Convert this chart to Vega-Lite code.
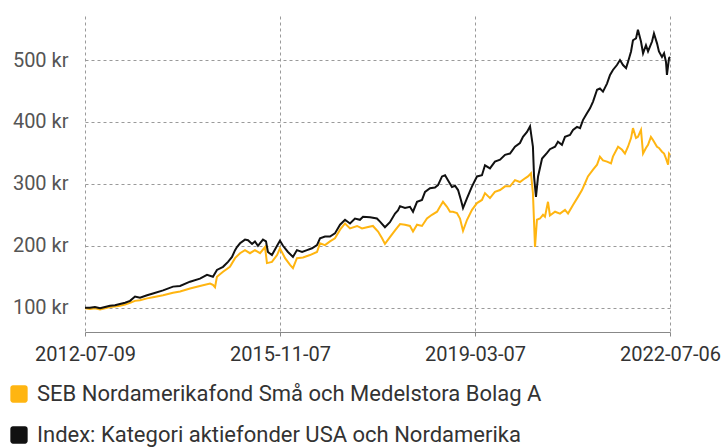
{
  "$schema": "https://vega.github.io/schema/vega-lite/v6.json",
  "autosize": "none",
  "width": 585,
  "height": 316,
  "padding": {"left": 85, "top": 16, "right": 55, "bottom": 116},
  "background": "white",
  "config": {
    "view": {"stroke": null},
    "font": "Roboto",
    "axis": {"labelFont": "Roboto", "gridColor": "#9a9a9a", "gridDash": [3, 3], "gridWidth": 1},
    "legend": {"labelFont": "Roboto"}
  },
  "datasets": {
    "seb": [
      {"d": "2012-07-09", "v": 99}, {"d": "2012-08-09", "v": 98}, {"d": "2012-09-09", "v": 99}, {"d": "2012-10-11", "v": 97},
      {"d": "2012-11-11", "v": 99}, {"d": "2012-12-12", "v": 101}, {"d": "2013-01-12", "v": 102}, {"d": "2013-02-12", "v": 103},
      {"d": "2013-03-16", "v": 105}, {"d": "2013-04-16", "v": 108}, {"d": "2013-05-17", "v": 111}, {"d": "2013-06-17", "v": 112},
      {"d": "2013-07-31", "v": 115}, {"d": "2013-09-06", "v": 117}, {"d": "2013-11-08", "v": 120}, {"d": "2014-01-09", "v": 124},
      {"d": "2014-02-22", "v": 126}, {"d": "2014-04-25", "v": 131}, {"d": "2014-06-26", "v": 135}, {"d": "2014-08-28", "v": 139},
      {"d": "2014-09-15", "v": 137}, {"d": "2014-09-28", "v": 133}, {"d": "2014-10-10", "v": 150}, {"d": "2014-11-17", "v": 158},
      {"d": "2014-12-30", "v": 166}, {"d": "2015-01-31", "v": 180}, {"d": "2015-03-03", "v": 188}, {"d": "2015-04-03", "v": 193},
      {"d": "2015-05-04", "v": 188}, {"d": "2015-06-04", "v": 193}, {"d": "2015-07-06", "v": 188}, {"d": "2015-08-06", "v": 198},
      {"d": "2015-08-18", "v": 172}, {"d": "2015-09-18", "v": 174}, {"d": "2015-10-20", "v": 185}, {"d": "2015-11-07", "v": 196},
      {"d": "2015-12-09", "v": 180}, {"d": "2016-01-09", "v": 169}, {"d": "2016-01-27", "v": 164}, {"d": "2016-02-21", "v": 180},
      {"d": "2016-03-30", "v": 181}, {"d": "2016-05-12", "v": 185}, {"d": "2016-06-25", "v": 190}, {"d": "2016-07-14", "v": 204},
      {"d": "2016-08-14", "v": 201}, {"d": "2016-09-14", "v": 207}, {"d": "2016-10-15", "v": 212}, {"d": "2016-11-16", "v": 226},
      {"d": "2016-12-17", "v": 236}, {"d": "2017-01-17", "v": 228}, {"d": "2017-03-02", "v": 232}, {"d": "2017-04-02", "v": 228},
      {"d": "2017-05-03", "v": 230}, {"d": "2017-06-09", "v": 232}, {"d": "2017-07-11", "v": 223}, {"d": "2017-08-05", "v": 212},
      {"d": "2017-08-23", "v": 203}, {"d": "2017-09-23", "v": 214}, {"d": "2017-10-25", "v": 225}, {"d": "2017-11-25", "v": 235},
      {"d": "2017-12-26", "v": 234}, {"d": "2018-01-26", "v": 232}, {"d": "2018-02-14", "v": 223}, {"d": "2018-03-11", "v": 234},
      {"d": "2018-04-11", "v": 232}, {"d": "2018-05-12", "v": 244}, {"d": "2018-06-12", "v": 250}, {"d": "2018-07-14", "v": 255},
      {"d": "2018-08-01", "v": 263}, {"d": "2018-08-20", "v": 271}, {"d": "2018-09-14", "v": 263}, {"d": "2018-10-03", "v": 255},
      {"d": "2018-10-21", "v": 255}, {"d": "2018-11-15", "v": 253}, {"d": "2018-12-04", "v": 244}, {"d": "2018-12-23", "v": 224},
      {"d": "2019-01-17", "v": 242}, {"d": "2019-02-17", "v": 258}, {"d": "2019-03-20", "v": 269}, {"d": "2019-04-20", "v": 274},
      {"d": "2019-05-09", "v": 285}, {"d": "2019-06-09", "v": 277}, {"d": "2019-07-10", "v": 287}, {"d": "2019-08-11", "v": 290},
      {"d": "2019-09-11", "v": 296}, {"d": "2019-10-12", "v": 296}, {"d": "2019-11-12", "v": 306}, {"d": "2019-12-13", "v": 303},
      {"d": "2020-01-14", "v": 309}, {"d": "2020-02-01", "v": 312}, {"d": "2020-02-20", "v": 317}, {"d": "2020-03-03", "v": 285},
      {"d": "2020-03-16", "v": 198}, {"d": "2020-03-28", "v": 242}, {"d": "2020-04-16", "v": 244}, {"d": "2020-05-05", "v": 250},
      {"d": "2020-05-17", "v": 247}, {"d": "2020-06-05", "v": 271}, {"d": "2020-06-17", "v": 249}, {"d": "2020-07-19", "v": 255},
      {"d": "2020-08-19", "v": 252}, {"d": "2020-09-19", "v": 258}, {"d": "2020-10-08", "v": 252}, {"d": "2020-11-08", "v": 266},
      {"d": "2020-12-09", "v": 279}, {"d": "2021-01-03", "v": 290}, {"d": "2021-01-22", "v": 301}, {"d": "2021-02-09", "v": 312},
      {"d": "2021-03-13", "v": 323}, {"d": "2021-04-07", "v": 331}, {"d": "2021-04-25", "v": 344}, {"d": "2021-05-14", "v": 338},
      {"d": "2021-06-08", "v": 336}, {"d": "2021-07-03", "v": 333}, {"d": "2021-07-15", "v": 344}, {"d": "2021-08-16", "v": 360},
      {"d": "2021-09-10", "v": 355}, {"d": "2021-09-28", "v": 349}, {"d": "2021-10-17", "v": 360}, {"d": "2021-11-05", "v": 374},
      {"d": "2021-11-17", "v": 390}, {"d": "2021-12-06", "v": 374}, {"d": "2021-12-18", "v": 376}, {"d": "2022-01-06", "v": 387},
      {"d": "2022-01-19", "v": 349}, {"d": "2022-02-06", "v": 358}, {"d": "2022-02-19", "v": 363}, {"d": "2022-03-09", "v": 376},
      {"d": "2022-03-22", "v": 371}, {"d": "2022-04-16", "v": 360}, {"d": "2022-04-28", "v": 358}, {"d": "2022-05-17", "v": 352},
      {"d": "2022-05-30", "v": 349}, {"d": "2022-06-11", "v": 341}, {"d": "2022-06-24", "v": 331}, {"d": "2022-06-30", "v": 349},
      {"d": "2022-07-06", "v": 347}
    ],
    "idx": [
      {"d": "2012-07-09", "v": 100}, {"d": "2012-08-09", "v": 100}, {"d": "2012-09-09", "v": 101}, {"d": "2012-10-11", "v": 99},
      {"d": "2012-11-11", "v": 101}, {"d": "2012-12-12", "v": 103}, {"d": "2013-01-12", "v": 104}, {"d": "2013-02-12", "v": 106},
      {"d": "2013-03-16", "v": 108}, {"d": "2013-04-16", "v": 111}, {"d": "2013-05-17", "v": 118}, {"d": "2013-06-17", "v": 116},
      {"d": "2013-07-31", "v": 120}, {"d": "2013-09-06", "v": 123}, {"d": "2013-11-08", "v": 128}, {"d": "2014-01-09", "v": 134},
      {"d": "2014-02-22", "v": 135}, {"d": "2014-04-25", "v": 142}, {"d": "2014-06-26", "v": 147}, {"d": "2014-08-09", "v": 153},
      {"d": "2014-09-15", "v": 150}, {"d": "2014-10-10", "v": 161}, {"d": "2014-11-17", "v": 166}, {"d": "2014-12-18", "v": 174},
      {"d": "2015-01-12", "v": 182}, {"d": "2015-01-31", "v": 193}, {"d": "2015-02-12", "v": 198}, {"d": "2015-03-03", "v": 204},
      {"d": "2015-04-03", "v": 210}, {"d": "2015-04-22", "v": 209}, {"d": "2015-05-17", "v": 203}, {"d": "2015-06-04", "v": 207},
      {"d": "2015-06-23", "v": 200}, {"d": "2015-07-24", "v": 210}, {"d": "2015-08-12", "v": 207}, {"d": "2015-08-24", "v": 190},
      {"d": "2015-09-18", "v": 185}, {"d": "2015-10-20", "v": 200}, {"d": "2015-11-07", "v": 208}, {"d": "2015-11-26", "v": 200},
      {"d": "2015-12-27", "v": 190}, {"d": "2016-01-27", "v": 182}, {"d": "2016-02-21", "v": 193}, {"d": "2016-03-24", "v": 190},
      {"d": "2016-04-24", "v": 193}, {"d": "2016-05-25", "v": 196}, {"d": "2016-06-25", "v": 201}, {"d": "2016-07-14", "v": 212},
      {"d": "2016-08-14", "v": 215}, {"d": "2016-09-14", "v": 215}, {"d": "2016-10-15", "v": 220}, {"d": "2016-11-16", "v": 234},
      {"d": "2016-12-17", "v": 242}, {"d": "2017-01-17", "v": 236}, {"d": "2017-02-17", "v": 244}, {"d": "2017-03-20", "v": 242},
      {"d": "2017-04-08", "v": 247}, {"d": "2017-05-22", "v": 246}, {"d": "2017-07-04", "v": 244}, {"d": "2017-07-23", "v": 239},
      {"d": "2017-08-23", "v": 230}, {"d": "2017-09-23", "v": 238}, {"d": "2017-10-25", "v": 252}, {"d": "2017-11-12", "v": 257},
      {"d": "2017-11-25", "v": 264}, {"d": "2017-12-26", "v": 261}, {"d": "2018-01-26", "v": 263}, {"d": "2018-02-14", "v": 255},
      {"d": "2018-03-11", "v": 271}, {"d": "2018-04-11", "v": 274}, {"d": "2018-04-30", "v": 287}, {"d": "2018-05-31", "v": 293},
      {"d": "2018-07-01", "v": 294}, {"d": "2018-07-20", "v": 298}, {"d": "2018-08-14", "v": 312}, {"d": "2018-09-02", "v": 314},
      {"d": "2018-09-20", "v": 306}, {"d": "2018-10-15", "v": 295}, {"d": "2018-11-03", "v": 297}, {"d": "2018-11-22", "v": 290},
      {"d": "2018-12-10", "v": 274}, {"d": "2018-12-23", "v": 261}, {"d": "2019-01-17", "v": 277}, {"d": "2019-02-17", "v": 296},
      {"d": "2019-03-20", "v": 312}, {"d": "2019-04-20", "v": 314}, {"d": "2019-05-09", "v": 330}, {"d": "2019-06-09", "v": 325},
      {"d": "2019-07-10", "v": 336}, {"d": "2019-08-11", "v": 339}, {"d": "2019-09-11", "v": 347}, {"d": "2019-10-12", "v": 349},
      {"d": "2019-11-12", "v": 360}, {"d": "2019-12-13", "v": 366}, {"d": "2020-01-01", "v": 376}, {"d": "2020-01-26", "v": 384},
      {"d": "2020-02-14", "v": 393}, {"d": "2020-03-03", "v": 360}, {"d": "2020-03-10", "v": 312}, {"d": "2020-03-22", "v": 279},
      {"d": "2020-04-04", "v": 312}, {"d": "2020-04-29", "v": 341}, {"d": "2020-05-30", "v": 350}, {"d": "2020-06-17", "v": 356},
      {"d": "2020-07-19", "v": 360}, {"d": "2020-08-06", "v": 368}, {"d": "2020-08-31", "v": 363}, {"d": "2020-09-19", "v": 376},
      {"d": "2020-10-20", "v": 379}, {"d": "2020-11-08", "v": 387}, {"d": "2020-12-03", "v": 392}, {"d": "2020-12-22", "v": 390},
      {"d": "2021-01-09", "v": 403}, {"d": "2021-02-03", "v": 414}, {"d": "2021-02-22", "v": 422}, {"d": "2021-03-13", "v": 433},
      {"d": "2021-04-07", "v": 452}, {"d": "2021-04-25", "v": 454}, {"d": "2021-05-14", "v": 449}, {"d": "2021-06-08", "v": 462},
      {"d": "2021-06-27", "v": 476}, {"d": "2021-07-15", "v": 484}, {"d": "2021-08-09", "v": 492}, {"d": "2021-08-28", "v": 500},
      {"d": "2021-09-16", "v": 492}, {"d": "2021-10-05", "v": 487}, {"d": "2021-10-17", "v": 497}, {"d": "2021-11-05", "v": 514},
      {"d": "2021-11-17", "v": 532}, {"d": "2021-12-06", "v": 535}, {"d": "2021-12-18", "v": 549}, {"d": "2022-01-06", "v": 530},
      {"d": "2022-01-19", "v": 511}, {"d": "2022-02-06", "v": 524}, {"d": "2022-02-19", "v": 514}, {"d": "2022-03-16", "v": 530},
      {"d": "2022-03-28", "v": 543}, {"d": "2022-04-16", "v": 527}, {"d": "2022-04-28", "v": 514}, {"d": "2022-05-17", "v": 505},
      {"d": "2022-05-30", "v": 511}, {"d": "2022-06-11", "v": 497}, {"d": "2022-06-17", "v": 476}, {"d": "2022-06-30", "v": 503},
      {"d": "2022-07-06", "v": 505}
    ]
  },
  "encoding": {
    "x": {
      "field": "d",
      "type": "temporal",
      "title": null,
      "scale": {
        "type": "utc",
        "domain": [
          {"year": 2012, "month": 7, "date": 9, "utc": true},
          {"year": 2022, "month": 7, "date": 6, "utc": true}
        ]
      },
      "axis": {
        "values": [
          {"year": 2012, "month": 7, "date": 9, "utc": true},
          {"year": 2015, "month": 11, "date": 7, "utc": true},
          {"year": 2019, "month": 3, "date": 7, "utc": true},
          {"year": 2022, "month": 7, "date": 6, "utc": true}
        ],
        "labelExpr": "utcFormat(datum.value, '%Y-%m-%d')",
        "labelFlush": false,
        "labelOverlap": false,
        "labelFontSize": 20,
        "labelColor": "#333333",
        "labelPadding": 8,
        "domainColor": "#888888",
        "tickColor": "#888888",
        "tickSize": 4,
        "grid": true
      }
    },
    "y": {
      "field": "v",
      "type": "quantitative",
      "title": null,
      "scale": {"domain": [60.7, 571.2], "nice": false, "zero": false},
      "axis": {
        "values": [100, 200, 300, 400, 500],
        "labelExpr": "datum.value + ' kr'",
        "labelFontSize": 20,
        "labelColor": "#555555",
        "labelPadding": 17,
        "ticks": false,
        "tickSize": 0,
        "domain": false,
        "grid": true,
        "labelFlush": false
      }
    },
    "color": {
      "scale": {
        "domain": ["SEB Nordamerikafond Små och Medelstora Bolag A", "Index: Kategori aktiefonder USA och Nordamerika"],
        "range": ["#FFB511", "#111111"]
      },
      "legend": {
        "title": null,
        "orient": "none",
        "legendX": -77,
        "legendY": 367,
        "direction": "vertical",
        "padding": 0,
        "labelFontSize": 22,
        "labelColor": "#333333",
        "labelLimit": 700,
        "labelOffset": 7,
        "rowPadding": 19,
        "symbolSize": 300,
        "symbolType": "M-0.7,-1H0.7A0.3,0.3 0 0 1 1,-0.7V0.7A0.3,0.3 0 0 1 0.7,1H-0.7A0.3,0.3 0 0 1 -1,0.7V-0.7A0.3,0.3 0 0 1 -0.7,-1Z",
        "symbolStrokeWidth": 0,
        "encode": {
          "symbols": {
            "update": {
              "fill": {"scale": "color", "field": "value"},
              "stroke": {"value": "transparent"}
            }
          }
        }
      }
    }
  },
  "layer": [
    {
      "data": {"name": "seb"},
      "mark": {"type": "line", "strokeWidth": 2},
      "encoding": {"color": {"datum": "SEB Nordamerikafond Små och Medelstora Bolag A"}}
    },
    {
      "data": {"name": "idx"},
      "mark": {"type": "line", "strokeWidth": 2},
      "encoding": {"color": {"datum": "Index: Kategori aktiefonder USA och Nordamerika"}}
    }
  ]
}
